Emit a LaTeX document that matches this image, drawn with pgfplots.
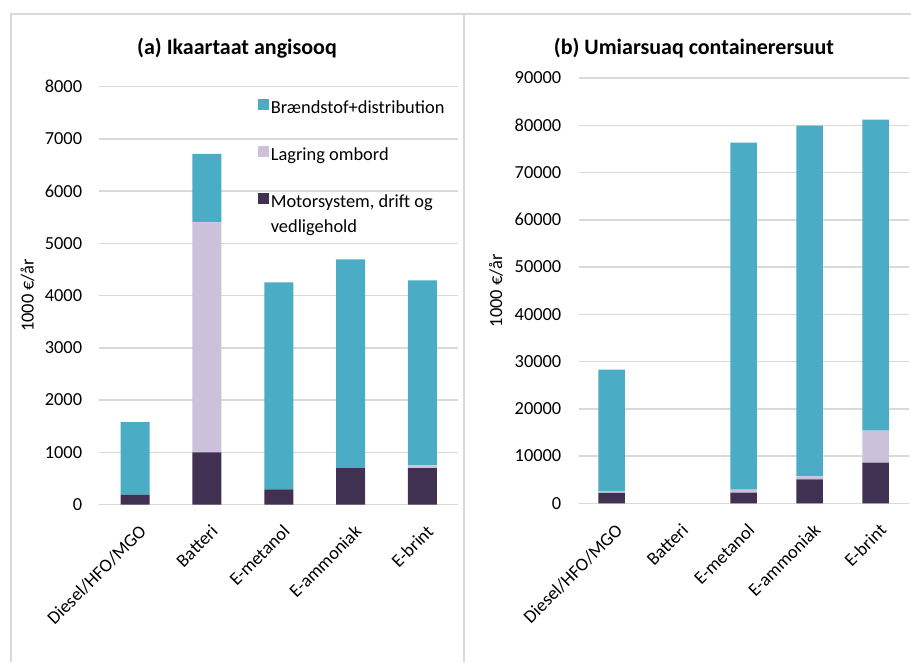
\documentclass[border=0pt]{standalone}
\usepackage{pgfplots}
\pgfplotsset{compat=1.18}
\usepackage{fontspec}
\setmainfont{Carlito}
\definecolor{fuel}{HTML}{4BACC6}
\definecolor{stor}{HTML}{CCC1DA}
\definecolor{motor}{HTML}{403152}
\definecolor{gridc}{HTML}{D9D9D9}

\pgfplotstableread{
x motor stor fuel
0 190 0 1390
1 1000 4400 1310
2 290 0 3960
3 700 0 3990
4 700 50 3540
}\tabA

\pgfplotstableread{
x motor stor fuel
0 2200 400 25700
1 0 0 0
2 2250 630 73420
3 5080 640 74180
4 8600 6800 65800
}\tabB

\pgfplotsset{
  myaxis/.style={
    scale only axis, anchor=south west,
    ybar stacked,
    xmin=-0.5, xmax=4.5, ymin=0,
    xtick={0,...,4},
    xticklabels={Diesel/HFO/MGO,Batteri,E-metanol,E-ammoniak,E-brint},
    axis line style={draw=none},
    ymajorgrids, grid style={gridc, line width=1.5pt},
    major tick length=0pt, tick style={draw=none},
    tick label style={font=\fontsize{18.4}{22}\selectfont},
    /pgf/number format/assume math mode=true,
    /pgf/number format/1000 sep={},
    yticklabel style={inner sep=0pt, xshift=-17pt},
    xticklabel style={xshift=3pt, yshift=-19pt, rotate=45, anchor=north east, inner sep=0pt},
    label style={font=\fontsize{18.4}{22}\selectfont},
    ylabel={1000 €/år},
  }
}

\begin{document}
\begin{tikzpicture}
\useasboundingbox (0pt,0pt) rectangle (911pt,662pt);
\fill[white] (0pt,0pt) rectangle (911pt,662pt);
\draw[gridc, line width=2pt] (10.5pt,0pt) -- (10.5pt,647.5pt) -- (911pt,647.5pt);
\draw[gridc, line width=2pt] (464pt,0pt) -- (464pt,647.5pt);

\begin{axis}[myaxis,
  at={(99.3pt,157.4pt)}, width=359pt, height=418.1pt,
  ymax=8000, ytick={0,1000,...,8000},
  bar width=29pt,
  y label style={at={(axis description cs:-0.2,0.5)}, anchor=center},
  reverse legend,
  legend style={draw=none, fill=none, at={(axis description cs:0.434,0.975)}, anchor=north west,
    row sep=28pt, font=\fontsize{18.4}{22}\selectfont,
    nodes={inner xsep=1.5pt, inner ysep=0pt, text height=13pt, text depth=5pt}},
  legend cell align=left,
  legend image code/.code={\fill[#1,draw=none] (0pt,-1pt) rectangle (11pt,10pt);},
]
\addplot[fill=motor, draw=none] table[x=x,y=motor]{\tabA};
\addlegendentry{\parbox[t]{200pt}{\baselineskip=25.5pt Motorsystem, drift og\\vedligehold}}
\addplot[fill=stor, draw=none] table[x=x,y=stor]{\tabA};
\addlegendentry{Lagring ombord}
\addplot[fill=fuel, draw=none] table[x=x,y=fuel]{\tabA};
\addlegendentry{Brændstof+distribution}
\end{axis}

\begin{axis}[myaxis,
  at={(578.5pt,158.7pt)}, width=330pt, height=425.3pt,
  ymax=90000, ytick={0,10000,...,90000},
  bar width=26.5pt,
  scaled y ticks=false,
  y label style={at={(axis description cs:-0.25,0.5)}, anchor=center},
]
\addplot[fill=motor, draw=none] table[x=x,y=motor]{\tabB};
\addplot[fill=stor, draw=none] table[x=x,y=stor]{\tabB};
\addplot[fill=fuel, draw=none] table[x=x,y=fuel]{\tabB};
\end{axis}

\node[font=\fontsize{22}{26}\selectfont\bfseries] at (237pt,614pt) {(a) Ikaartaat angisooq};
\node[font=\fontsize{22}{26}\selectfont\bfseries] at (694pt,614pt) {(b) Umiarsuaq containerersuut};
\end{tikzpicture}
\end{document}
